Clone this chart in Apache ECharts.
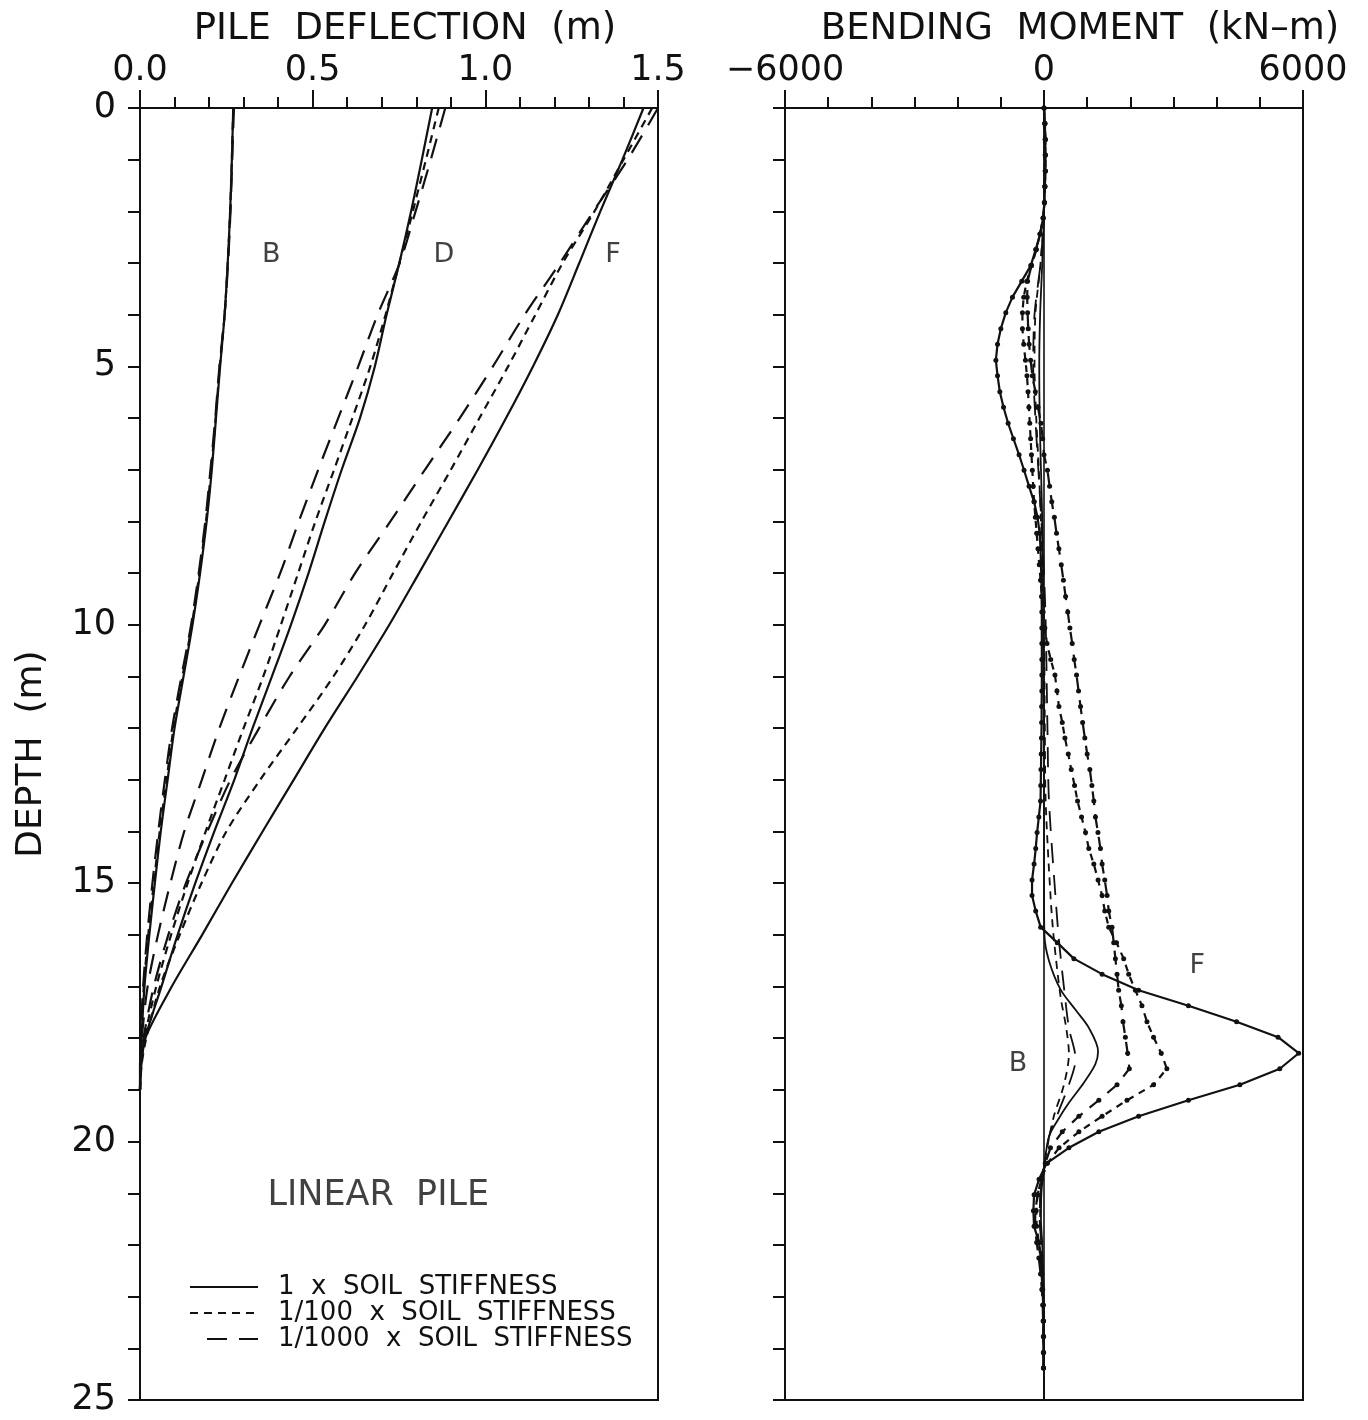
<!DOCTYPE html>
<html>
<head>
<meta charset="utf-8">
<script src="https://cdn.jsdelivr.net/npm/echarts@6/dist/echarts.min.js"></script>
<style>
html,body{margin:0;padding:0;background:#fff;}
#chart{width:1368px;height:1420px;}
</style>
</head>
<body>
<div id="chart"></div>
<script>
// ---------------- DATA ----------------
// Left panel: pile deflection (m) vs depth (m)
const depthsL = [0,1,2,3,4,5,6,7,8,9,10,11,12,13,14,15,16,17,18,18.5,19];
const defB1    = [0.270,0.266,0.261,0.254,0.245,0.232,0.220,0.208,0.193,0.174,0.152,0.126,0.100,0.080,0.060,0.043,0.027,0.013,0.004,0.001,0];
const defB100  = [0.270,0.266,0.261,0.254,0.245,0.231,0.219,0.206,0.191,0.172,0.150,0.123,0.097,0.077,0.057,0.040,0.024,0.011,0.003,0.001,0];
const defB1000 = [0.272,0.267,0.262,0.255,0.245,0.230,0.218,0.204,0.189,0.170,0.148,0.120,0.093,0.072,0.053,0.036,0.021,0.009,0.002,0.000,0];
const defD1    = [0.846,0.816,0.785,0.751,0.714,0.680,0.637,0.584,0.535,0.488,0.437,0.382,0.326,0.273,0.215,0.160,0.109,0.062,0.015,0.004,0];
const defD100  = [0.865,0.828,0.790,0.751,0.711,0.667,0.615,0.562,0.508,0.458,0.408,0.357,0.300,0.245,0.190,0.138,0.090,0.047,0.013,0.003,0];
const defD1000 = [0.884,0.842,0.798,0.752,0.688,0.632,0.574,0.516,0.460,0.406,0.346,0.287,0.230,0.179,0.128,0.088,0.052,0.022,0.005,0.001,0];
const defF1    = [1.458,1.397,1.333,1.272,1.210,1.138,1.060,0.978,0.893,0.808,0.722,0.630,0.535,0.445,0.355,0.266,0.180,0.092,0.015,0.003,0];
const defF100  = [1.483,1.400,1.316,1.224,1.145,1.066,0.983,0.900,0.815,0.733,0.652,0.560,0.455,0.348,0.250,0.178,0.115,0.058,0.018,0.005,0];
const defF1000 = [1.500,1.412,1.313,1.216,1.114,1.022,0.926,0.825,0.725,0.623,0.535,0.433,0.345,0.262,0.195,0.133,0.082,0.040,0.010,0.002,0];

// Right panel: bending moment (kN-m) at computation nodes (dots), depth (m)
const depthsM = [0,0.30,0.61,0.91,1.22,1.52,1.83,2.13,2.44,2.74,
  3.05,3.35,3.66,3.96,4.27,4.57,4.88,5.18,5.49,5.79,
  6.10,6.40,6.71,7.01,7.32,7.62,7.92,8.23,8.53,8.84,
  9.14,9.45,9.75,10.06,10.36,10.67,10.97,11.28,11.58,11.89,
  12.19,12.50,12.80,13.11,13.41,13.72,14.02,14.33,14.63,14.94,
  15.24,15.54,15.85,16.15,16.46,16.76,17.07,17.37,17.68,17.98,
  18.29,18.59,18.90,19.20,19.51,19.81,20.12,20.42,20.73,21.03,
  21.34,21.64,21.95,22.25,22.56,22.86,23.16,23.47,23.77,24.08,
  24.38];
const momF1 = [0,20,30,30,30,20,10,-20,-90,-192,
  -307,-515,-731,-885,-1000,-1077,-1115,-1077,-1023,-938,
  -831,-708,-577,-462,-346,-230,-150,-100,-80,-70,
  -60,-55,-50,-50,-50,-50,-50,-50,-55,-55,
  -60,-65,-70,-75,-80,-120,-160,-192,-230,-277,
  -277,-192,-77,307,692,1346,2192,3346,4461,5423,
  5900,5462,4538,3346,2192,1270,577,60,-115,-230,
  -246,-230,-115,-77,-54,-38,-15,-15,-15,-15,
  -15];
const momF100 = [0,20,30,30,30,20,10,-20,-90,-180,
  -290,-400,-470,-500,-500,-470,-430,-395,-370,-350,
  -330,-310,-290,-270,-250,-230,-200,-170,-140,-110,
  -80,-50,-20,20,69,155,254,300,346,423,
  485,562,631,708,777,870,962,1038,1154,1253,
  1346,1408,1500,1680,1846,1962,2116,2269,2385,2538,
  2716,2846,2538,1922,1346,808,350,80,-60,-150,
  -180,-170,-120,-80,-50,-30,-20,-10,-10,-10,
  -10];
const momF1000 = [0,20,30,30,30,20,10,-20,-90,-180,
  -290,-380,-390,-380,-365,-345,-310,-270,-200,-140,
  -70,-30,0,80,130,180,240,290,345,400,
  450,500,550,600,654,700,754,800,846,895,
  946,1000,1062,1110,1154,1192,1250,1308,1346,1408,
  1462,1500,1576,1615,1654,1692,1730,1792,1830,1885,
  1938,1977,1692,1270,808,423,150,30,-60,-150,
  -200,-210,-170,-120,-80,-50,-30,-20,-10,-10,
  -10];

// B curves in the moment panel (no node dots)
const depthsMB1 = [0,1,2,3,4,5,6,7,8,9,10,12,14,15,16,16.5,17.06,17.45,17.8,18.25,18.5,18.86,19.25,19.6,19.9,20.5,21,21.5,22,23,25];
const momB1     = [0,10,0,-40,-90,-110,-100,-70,-40,-20,-10,0,0,0,10,115,385,730,1040,1253,1190,923,577,307,115,0,-60,-70,-40,-10,0];
const depthsMB100 = [0,1,2,3,4,5,6,7,8,9,10,12,13.4,15.3,16.1,17.2,17.8,18.3,18.9,19.5,20,20.5,21,21.5,22,23,25];
const momB100     = [0,10,0,-80,-200,-220,-180,-120,-70,-30,0,20,38,155,231,385,515,577,462,231,100,0,-80,-90,-50,-10,0];
const depthsMB1000 = [0,1,2,3,4,5,6,7,8,9,10,12,13.4,15.3,16.1,17,17.8,18.4,18.9,19.4,19.9,20.5,21,21.5,22,23,25];
const momB1000     = [0,10,0,-80,-220,-250,-200,-130,-60,0,40,80,115,270,346,460,577,731,577,346,120,0,-80,-100,-60,-10,0];

const zeroLine = [[0,0],[0,25]];

// Annotations [x, depth, text]
const notesL = [[0.38,2.85,'B'],[0.88,2.85,'D'],[1.37,2.85,'F']];
const titleNoteL = [[0.69,21.05,'LINEAR  PILE']];
const notesR = [[3550,16.6,'F'],[-600,18.5,'B']];

const legendTexts = ['1  x  SOIL  STIFFNESS','1/100  x  SOIL  STIFFNESS','1/1000  x  SOIL  STIFFNESS'];

// ---------------- CHART ----------------
const FONT = "'DejaVu Sans','Liberation Sans',Arial,sans-serif";
const INK = '#111';
const SHORT = [8,6];
const LONG = [20,12];

function pairs(xs, ds){ return ds.map((d,i)=>[xs[i], d]); }

function lineL(name, vals, dash){
  return {name, type:'line', xAxisIndex:0, yAxisIndex:0, data:pairs(vals, depthsL),
    showSymbol:false, smooth:0.3, silent:true, z:3,
    lineStyle:{color:INK, width:2.2, type: dash || 'solid'}};
}
function lineRdots(name, vals, dash){
  return {name, type:'line', xAxisIndex:1, yAxisIndex:1, data:pairs(vals, depthsM),
    showSymbol:true, symbol:'circle', symbolSize:5, silent:true, z:4,
    itemStyle:{color:INK}, lineStyle:{color:INK, width:2.2, type: dash || 'solid'}};
}
function lineRthin(name, vals, ds, dash){
  return {name, type:'line', xAxisIndex:1, yAxisIndex:1, data:pairs(vals, ds),
    showSymbol:false, smooth:0.3, silent:true, z:3,
    lineStyle:{color:INK, width:1.8, type: dash || 'solid'}};
}
function notes(arr, xi, size){
  return {type:'scatter', xAxisIndex:xi, yAxisIndex:xi, symbolSize:1, silent:true, z:6,
    itemStyle:{color:'rgba(0,0,0,0)'},
    data: arr.map(a=>({value:[a[0],a[1]], name:a[2]})),
    label:{show:true, position:'inside', formatter:p=>p.name, fontFamily:FONT, fontSize:size, color:INK}};
}

const axisTextStyle = {fontFamily:FONT, fontSize:35, color:INK};

const option = {
  animation:false,
  backgroundColor:'#fff',
  grid:[
    {left:140, top:108, width:518, height:1292, show:true, borderColor:INK, borderWidth:2, backgroundColor:'transparent'},
    {left:785, top:108, width:518, height:1292, show:true, borderColor:INK, borderWidth:2, backgroundColor:'transparent'}
  ],
  xAxis:[
    {gridIndex:0, type:'value', position:'top', min:0, max:1.5, interval:0.5,
     name:'PILE  DEFLECTION  (m)', nameLocation:'middle', nameGap:58,
     nameTextStyle:{fontFamily:FONT, fontSize:37, color:INK, padding:[0,0,0,12]},
     axisLine:{show:true, lineStyle:{color:INK, width:2}},
     axisTick:{show:true, inside:false, length:18, lineStyle:{color:INK, width:2}},
     minorTick:{show:true, splitNumber:5, length:11, lineStyle:{color:INK, width:2}},
     splitLine:{show:false}, minorSplitLine:{show:false},
     axisLabel:Object.assign({margin:20, formatter:v=>v.toFixed(1)}, axisTextStyle)},
    {gridIndex:1, type:'value', position:'top', min:-6000, max:6000, interval:6000,
     name:'BENDING  MOMENT  (kN\u2013m)', nameLocation:'middle', nameGap:58,
     nameTextStyle:{fontFamily:FONT, fontSize:37, color:INK, padding:[0,0,0,72]},
     axisLine:{show:true, onZero:false, lineStyle:{color:INK, width:2}},
     axisTick:{show:true, inside:false, length:18, lineStyle:{color:INK, width:2}},
     minorTick:{show:true, splitNumber:6, length:11, lineStyle:{color:INK, width:2}},
     splitLine:{show:false}, minorSplitLine:{show:false},
     axisLabel:Object.assign({margin:20, formatter:v=> v<0 ? '\u2212'+Math.abs(v) : String(v)}, axisTextStyle)}
  ],
  yAxis:[
    {gridIndex:0, type:'value', inverse:true, min:0, max:25, interval:5,
     name:'DEPTH  (m)', nameLocation:'middle', nameGap:90, nameRotate:90,
     nameTextStyle:{fontFamily:FONT, fontSize:36, color:INK},
     axisLine:{show:true, onZero:false, lineStyle:{color:INK, width:2}},
     axisTick:{show:true, inside:false, length:12, lineStyle:{color:INK, width:2}},
     minorTick:{show:true, splitNumber:5, length:12, lineStyle:{color:INK, width:2}},
     splitLine:{show:false}, minorSplitLine:{show:false},
     axisLabel:Object.assign({margin:24}, axisTextStyle)},
    {gridIndex:1, type:'value', inverse:true, min:0, max:25, interval:5,
     axisLine:{show:true, onZero:false, lineStyle:{color:INK, width:2}},
     axisTick:{show:true, inside:false, length:12, lineStyle:{color:INK, width:2}},
     minorTick:{show:true, splitNumber:5, length:12, lineStyle:{color:INK, width:2}},
     splitLine:{show:false}, minorSplitLine:{show:false},
     axisLabel:{show:false}}
  ],
  series:[
    lineL('B 1x', defB1), lineL('B 1/100x', defB100, SHORT), lineL('B 1/1000x', defB1000, LONG),
    lineL('D 1x', defD1), lineL('D 1/100x', defD100, SHORT), lineL('D 1/1000x', defD1000, LONG),
    lineL('F 1x', defF1), lineL('F 1/100x', defF100, SHORT), lineL('F 1/1000x', defF1000, LONG),
    {type:'line', xAxisIndex:1, yAxisIndex:1, data:zeroLine, showSymbol:false, silent:true, z:2,
     lineStyle:{color:INK, width:1.6}},
    lineRthin('MB 1x', momB1, depthsMB1),
    lineRthin('MB 1/100x', momB100, depthsMB100, SHORT),
    lineRthin('MB 1/1000x', momB1000, depthsMB1000, LONG),
    lineRdots('MF 1x', momF1),
    lineRdots('MF 1/100x', momF100, [7,6]),
    lineRdots('MF 1/1000x', momF1000, [14,9]),
    notes(notesL, 0, 27),
    notes(titleNoteL, 0, 35),
    notes(notesR, 1, 27)
  ],
  graphic:[
    {type:'line', shape:{x1:190,y1:1287,x2:258,y2:1287}, style:{stroke:INK, lineWidth:2}},
    {type:'line', shape:{x1:190,y1:1313,x2:258,y2:1313}, style:{stroke:INK, lineWidth:2, lineDash:SHORT}},
    {type:'line', shape:{x1:207,y1:1339,x2:258,y2:1339}, style:{stroke:INK, lineWidth:2, lineDash:LONG}},
    {type:'text', x:278, y:1287, style:{text:legendTexts[0], font:'26px '+FONT, fill:INK, textVerticalAlign:'middle', verticalAlign:'middle'}},
    {type:'text', x:278, y:1313, style:{text:legendTexts[1], font:'26px '+FONT, fill:INK, textVerticalAlign:'middle', verticalAlign:'middle'}},
    {type:'text', x:278, y:1339, style:{text:legendTexts[2], font:'26px '+FONT, fill:INK, textVerticalAlign:'middle', verticalAlign:'middle'}}
  ]
};

const chart = echarts.init(document.getElementById('chart'), null, {renderer:'canvas', width:1368, height:1420});
chart.setOption(option);
</script>
</body>
</html>
